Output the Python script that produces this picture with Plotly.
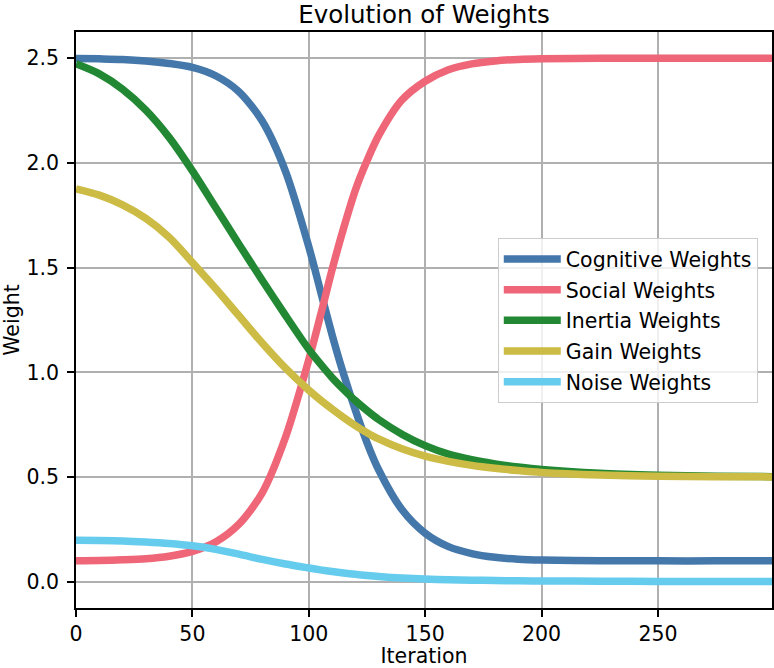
import plotly.graph_objects as go

iterations = [0, 10, 20, 30, 40, 50, 60, 70, 80, 90, 100, 105, 110, 115, 120, 125, 130,
              140, 150, 160, 170, 180, 190, 200, 225, 250, 275, 299]

cognitive = [2.499, 2.497, 2.494, 2.487, 2.475, 2.456, 2.416, 2.34, 2.20, 1.96, 1.60, 1.39,
             1.18, 0.99, 0.82, 0.665, 0.535, 0.345, 0.232, 0.168, 0.135, 0.117, 0.108,
             0.104, 0.101, 0.100, 0.100, 0.100]
social = [0.101, 0.102, 0.105, 0.110, 0.122, 0.145, 0.19, 0.275, 0.425, 0.69, 1.06, 1.27,
          1.49, 1.69, 1.87, 2.01, 2.13, 2.30, 2.39, 2.445, 2.473, 2.487, 2.494, 2.497,
          2.5, 2.5, 2.5, 2.5]
inertia = [2.473, 2.425, 2.352, 2.252, 2.122, 1.962, 1.787, 1.612, 1.44, 1.272, 1.11, 1.04,
           0.975, 0.918, 0.865, 0.818, 0.775, 0.705, 0.65, 0.61, 0.583, 0.563, 0.548, 0.536,
           0.518, 0.509, 0.504, 0.502]
gain = [1.876, 1.846, 1.80, 1.735, 1.645, 1.525, 1.40, 1.27, 1.14, 1.02, 0.915, 0.868,
        0.825, 0.784, 0.746, 0.712, 0.682, 0.635, 0.60, 0.575, 0.556, 0.542, 0.531, 0.522,
        0.51, 0.504, 0.502, 0.501]
noise = [0.198, 0.197, 0.195, 0.19, 0.183, 0.172, 0.155, 0.132, 0.107, 0.085, 0.066, 0.057,
         0.049, 0.042, 0.036, 0.030, 0.025, 0.018, 0.013, 0.010, 0.008, 0.006, 0.005,
         0.004, 0.003, 0.002, 0.001, 0.001]

series_names = ["Cognitive Weights", "Social Weights", "Inertia Weights",
                "Gain Weights", "Noise Weights"]
series_values = [cognitive, social, inertia, gain, noise]
colors = ["#4477AA", "#EE6677", "#228833", "#CCBB44", "#66CCEE"]

x_ticks = [0, 50, 100, 150, 200, 250]
y_ticks = [0.0, 0.5, 1.0, 1.5, 2.0, 2.5]

FONT = "DejaVu Sans"

fig = go.Figure()
for i, (name, vals, col) in enumerate(zip(series_names, series_values, colors)):
    fig.add_trace(go.Scatter(
        x=iterations, y=vals, mode="lines", name=name,
        line=dict(color=col, width=7.5, shape="spline", smoothing=0.8),
        legendgroup=f"g{i}",
    ))

axis_common = dict(
    showline=True, linecolor="black", linewidth=1.5, mirror=True,
    ticks="outside", ticklen=7, tickwidth=1.5, tickcolor="black",
    showgrid=True, gridcolor="#b0b0b0", gridwidth=1.5,
    zeroline=False,
    tickfont=dict(family=FONT, size=20.5, color="black"),
)

fig.update_layout(
    width=774, height=668,
    margin=dict(l=76, r=2, t=32, b=60, autoexpand=False),
    paper_bgcolor="white", plot_bgcolor="white",
    font=dict(family=FONT, size=20.5, color="black"),
    title=dict(text="Evolution of Weights", x=0.5, xref="paper", xanchor="center",
               yref="container", y=(668 - 14) / 668, yanchor="middle",
               font=dict(family=FONT, size=24.5, color="black")),
    xaxis=dict(range=[0, 299], tickvals=x_ticks, ticktext=[str(v) for v in x_ticks],
               title=dict(text="Iteration", standoff=9,
                          font=dict(family=FONT, size=20.5)),
               automargin=True,
               **axis_common),
    yaxis=dict(range=[-0.125, 2.625], tickvals=y_ticks,
               ticktext=[f"{v:.1f}" for v in y_ticks],
               title=dict(text="Weight", standoff=8,
                          font=dict(family=FONT, size=20.5)),
               ticklabelstandoff=4, automargin=False,
               **axis_common),
    legend=dict(x=0.606, y=0.642, xanchor="left", yanchor="top",
                bgcolor="rgba(255,255,255,0.8)", bordercolor="#cccccc", borderwidth=1,
                font=dict(family=FONT, size=20.5, color="black"),
                traceorder="grouped", tracegroupgap=1, itemwidth=57),
    showlegend=True,
)

fig.write_html("out.html",
               config={"displayModeBar": False},
               post_script="document.body.style.margin='0px';"
                           "document.body.style.overflow='hidden';")
